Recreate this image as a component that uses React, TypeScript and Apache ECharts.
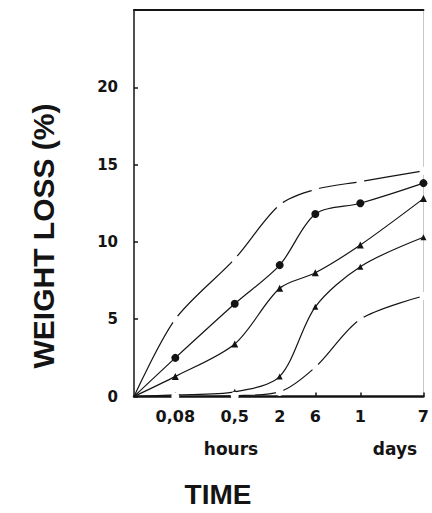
import React, { useEffect, useRef } from "react";
import * as echarts from "echarts";

// Time points (hours) and their printed tick labels
const hours = [0.08, 0.5, 2, 6, 24, 168];
const tickLabels = ["0,08", "0,5", "2", "6", "1", "7"];
// Start of the experiment (time zero) sits at the left end of the axis
const T0 = 0.0224;
const T_END = 168;

// Weight loss (%) for the five curves, top to bottom
const curveA = [5.0, 8.9, 12.4, 13.4, 13.9, 14.6];
const curveB = [2.5, 6.0, 8.5, 11.8, 12.5, 13.8];
const curveC = [1.3, 3.4, 7.0, 8.0, 9.8, 12.8];
const curveD = [0.1, 0.3, 1.3, 5.8, 8.4, 10.3];
const curveE = [0.0, 0.05, 0.3, 1.9, 5.0, 6.5];

const yTicks = [0, 5, 10, 15, 20];

const INK = "#141414";

function buildData(vals: number[]) {
  const pts: any[] = [{ value: [T0, 0], symbol: "none" }];
  vals.forEach((v, i) => pts.push({ value: [hours[i], v] }));
  return pts;
}

function labelFor(v: number): string {
  let best = 0;
  let bd = Infinity;
  hours.forEach((h, i) => {
    const d = Math.abs(Math.log(h) - Math.log(v));
    if (d < bd) {
      bd = d;
      best = i;
    }
  });
  return tickLabels[best];
}

export default function App() {
  const ref = useRef<HTMLDivElement>(null);
  useEffect(() => {
    if (!ref.current) return;
    const chart = echarts.init(ref.current, null, { renderer: "svg" });
    const lineStyle = { color: INK, width: 1.2 };
    const mk = (name: string, vals: number[], symbol: string, size: number, empty: boolean) => ({
      name,
      type: "line",
      xAxisIndex: 0,
      yAxisIndex: 0,
      data: buildData(vals),
      smooth: 0.3,
      symbol,
      symbolSize: size,
      showSymbol: true,
      clip: false,
      lineStyle,
      itemStyle: empty
        ? { color: "#ffffff", borderColor: "#9a9a9a", borderWidth: 0.8 }
        : { color: INK, borderColor: INK, borderWidth: 0 },
      emphasis: { disabled: true },
    });
    chart.setOption({
      animation: false,
      backgroundColor: "#ffffff",
      grid: {
        left: 134,
        top: 10,
        right: 2,
        bottom: 116.5,
        show: false,
      },
      xAxis: [
        {
          type: "log",
          logBase: 10,
          min: T0,
          max: T_END,
          axisLine: { show: true, lineStyle: { color: INK, width: 2.5 } },
          axisTick: {
            show: true,
            inside: true,
            length: 4,
            customValues: hours.slice(1),
            lineStyle: { color: INK, width: 1.5 },
          },
          minorTick: { show: false },
          splitLine: { show: false },
          axisLabel: {
            customValues: hours,
            formatter: (v: number) => labelFor(v),
            margin: 12,
            color: INK,
            fontFamily: "DejaVu Sans",
            fontWeight: "bold",
            fontSize: 16,
          },
        },
        {
          type: "value",
          position: "top",
          min: 0,
          max: 1,
          axisLine: { show: true, onZero: false, lineStyle: { color: INK, width: 2 } },
          axisTick: { show: false },
          axisLabel: { show: false },
          splitLine: { show: false },
        },
      ],
      yAxis: [
        {
          type: "value",
          min: 0,
          max: 25,
          interval: 5,
          axisLine: { show: true, lineStyle: { color: INK, width: 1.5 } },
          axisTick: { show: true, inside: true, length: 4, lineStyle: { color: INK, width: 1.5 } },
          splitLine: { show: false },
          axisLabel: {
            margin: 16,
            color: INK,
            fontFamily: "DejaVu Sans",
            fontWeight: "bold",
            fontSize: 15,
            formatter: (v: number) => (yTicks.indexOf(v) >= 0 ? String(v) : ""),
          },
        },
        {
          type: "value",
          position: "right",
          min: 0,
          max: 25,
          interval: 5,
          axisLine: { show: true, onZero: false, lineStyle: { color: "#c8c8c8", width: 1 } },
          axisTick: { show: false },
          axisLabel: { show: false },
          splitLine: { show: false },
        },
      ],
      series: [
        mk("A", curveA, "emptyCircle", 6, true),
        mk("B", curveB, "circle", 8, false),
        mk("C", curveC, "triangle", 7, false),
        mk("D", curveD, "triangle", 6, false),
        mk("E", curveE, "emptyCircle", 6, true),
      ],
      graphic: [
        {
          type: "text",
          x: 43,
          y: 236,
          rotation: Math.PI / 2,
          style: {
            text: "WEIGHT LOSS (%)",
            fill: INK,
            font: "bold 30px 'Liberation Sans', Arial, sans-serif",
            align: "center",
            verticalAlign: "middle",
          },
        },
        {
          type: "text",
          x: 231,
          y: 449,
          style: {
            text: "hours",
            fill: INK,
            font: "bold 17px 'DejaVu Sans', sans-serif",
            align: "center",
            verticalAlign: "middle",
          },
        },
        {
          type: "text",
          x: 395,
          y: 449,
          style: {
            text: "days",
            fill: INK,
            font: "bold 17px 'DejaVu Sans', sans-serif",
            align: "center",
            verticalAlign: "middle",
          },
        },
        {
          type: "text",
          x: 218,
          y: 494,
          style: {
            text: "TIME",
            fill: INK,
            font: "bold 28px 'Liberation Sans', Arial, sans-serif",
            align: "center",
            verticalAlign: "middle",
          },
        },
      ],
    });
    return () => chart.dispose();
  }, []);
  return (
    <div
      ref={ref}
      style={{ position: "fixed", left: 0, top: 0, width: 432, height: 513, background: "#fff" }}
    />
  );
}
